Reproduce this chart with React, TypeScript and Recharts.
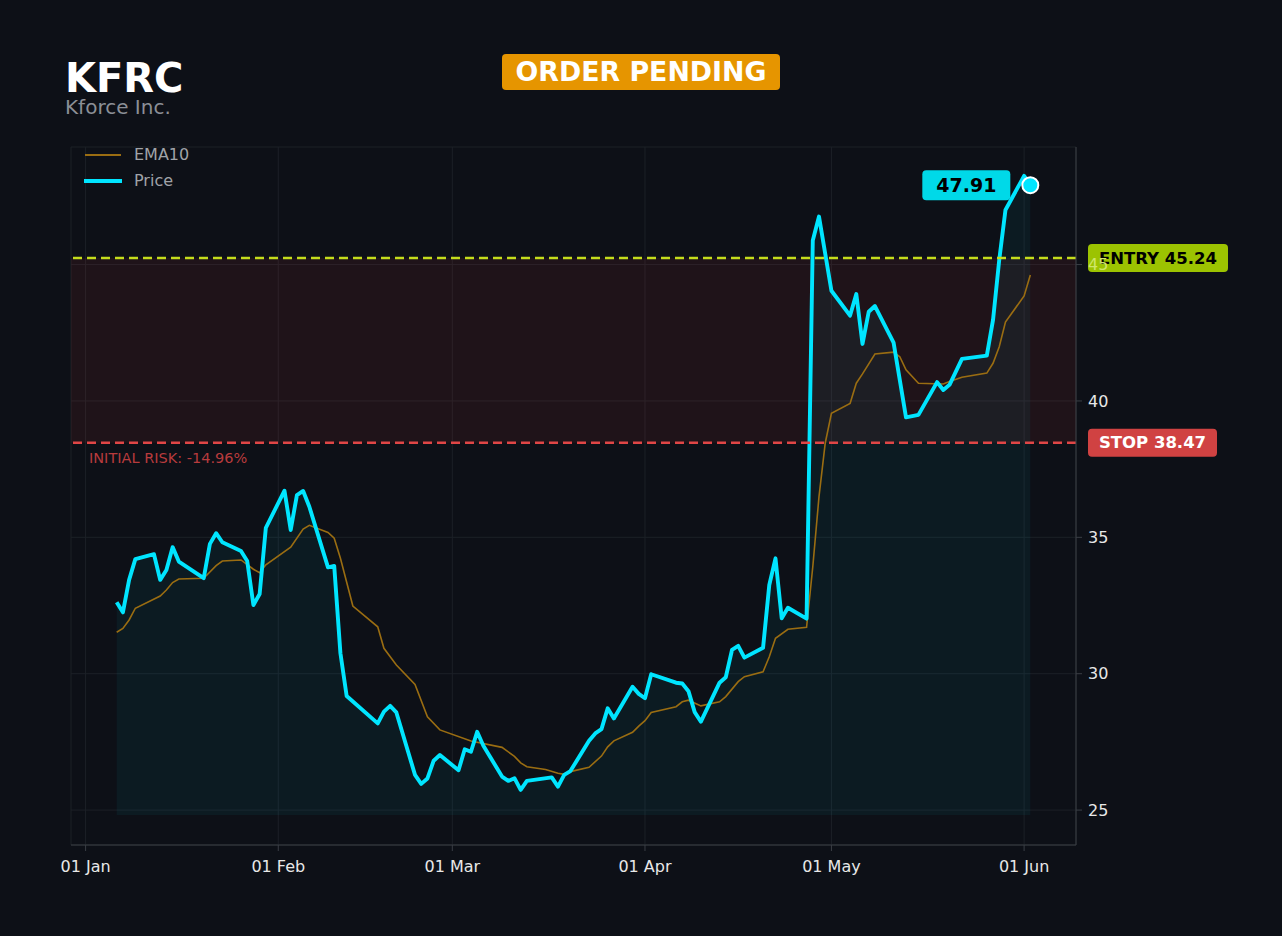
import {
  Area,
  CartesianGrid,
  ComposedChart,
  Line,
  ReferenceArea,
  ReferenceDot,
  ReferenceLine,
  XAxis,
  YAxis,
} from "recharts";

const YEAR = 2026;
const TICKER = "KFRC";
const COMPANY = "Kforce Inc.";
const ENTRY = 45.24;
const STOP = 38.47;
const INITIAL_RISK = "-14.96%";
const LAST_PRICE = 47.91;

const monthTicks = ["01-01", "02-01", "03-01", "04-01", "05-01", "06-01"];
const yTicks = [25, 30, 35, 40, 45];

const priceDates = [
  "01-06", "01-07", "01-08", "01-09", "01-12", "01-13", "01-14", "01-15", "01-16", "01-20",
  "01-21", "01-22", "01-23", "01-26", "01-27", "01-28", "01-29", "01-30", "02-02", "02-03",
  "02-04", "02-05", "02-06", "02-09", "02-10", "02-11", "02-12", "02-17", "02-18", "02-19",
  "02-20", "02-23", "02-24", "02-25", "02-26", "02-27", "03-02", "03-03", "03-04", "03-05",
  "03-06", "03-09", "03-10", "03-11", "03-12", "03-13", "03-17", "03-18", "03-19", "03-20",
  "03-23", "03-24", "03-25", "03-26", "03-27", "03-30", "03-31", "04-01", "04-02", "04-06",
  "04-07", "04-08", "04-09", "04-10", "04-13", "04-14", "04-15", "04-16", "04-17", "04-20",
  "04-21", "04-22", "04-23", "04-24", "04-27", "04-28", "04-29", "05-01", "05-04", "05-05",
  "05-06", "05-07", "05-08", "05-11", "05-13", "05-15", "05-18", "05-19", "05-20", "05-22",
  "05-26", "05-27", "05-28", "05-29", "06-01", "06-02",
];
const priceValues = [
  32.62, 32.25, 33.44, 34.2, 34.38, 33.44, 33.8, 34.64, 34.11, 33.5,
  34.76, 35.15, 34.82, 34.5, 34.13, 32.52, 32.92, 35.35, 36.71, 35.27,
  36.55, 36.7, 36.12, 33.9, 33.95, 30.75, 29.18, 28.18, 28.61, 28.82,
  28.58, 26.29, 25.96, 26.16, 26.81, 27.02, 26.46, 27.23, 27.14, 27.87,
  27.36, 26.23, 26.07, 26.17, 25.74, 26.07, 26.2, 25.86, 26.29, 26.43,
  27.54, 27.81, 27.97, 28.73, 28.36, 29.52, 29.26, 29.1, 29.98, 29.67,
  29.64, 29.36, 28.59, 28.24, 29.67, 29.87, 30.87, 31.02, 30.59, 30.95,
  33.25, 34.23, 32.03, 32.42, 32.02, 45.88, 46.76, 44.04, 43.13, 43.92,
  42.09, 43.27, 43.48, 42.14, 39.4, 39.49, 40.69, 40.4, 40.59, 41.54,
  41.66, 42.97, 45.17, 47.0, 48.25, 47.91,
];

const emaDates = [
  "01-06", "01-07", "01-08", "01-09", "01-13", "01-14", "01-15", "01-16", "01-20", "01-22",
  "01-23", "01-26", "01-28", "01-29", "01-30", "02-03", "02-05", "02-06", "02-09", "02-10",
  "02-11", "02-13", "02-17", "02-18", "02-20", "02-23", "02-25", "02-27", "03-04", "03-09",
  "03-11", "03-12", "03-13", "03-16", "03-18", "03-19", "03-20", "03-23", "03-25", "03-26",
  "03-27", "03-30", "03-31", "04-01", "04-02", "04-06", "04-07", "04-08", "04-10", "04-13",
  "04-14", "04-16", "04-17", "04-20", "04-21", "04-22", "04-24", "04-27", "04-28", "04-29",
  "04-30", "05-01", "05-04", "05-05", "05-06", "05-08", "05-11", "05-12", "05-13", "05-15",
  "05-19", "05-20", "05-22", "05-26", "05-27", "05-28", "05-29", "06-01", "06-02",
];
const emaValues = [
  31.52, 31.66, 31.97, 32.4, 32.85, 33.07, 33.34, 33.47, 33.5, 33.96,
  34.13, 34.17, 33.83, 33.7, 33.99, 34.64, 35.3, 35.44, 35.18, 34.97,
  34.23, 32.48, 31.72, 30.93, 30.32, 29.61, 28.42, 27.94, 27.53, 27.3,
  26.97, 26.73, 26.59, 26.49, 26.35, 26.31, 26.41, 26.57, 26.98, 27.32,
  27.54, 27.85, 28.08, 28.28, 28.58, 28.79, 28.97, 29.03, 28.82, 28.97,
  29.16, 29.71, 29.89, 30.07, 30.62, 31.3, 31.63, 31.7, 33.92, 36.49,
  38.45, 39.55, 39.91, 40.65, 40.99, 41.72, 41.79, 41.62, 41.14, 40.65,
  40.62, 40.71, 40.87, 41.02, 41.38, 41.99, 42.89, 43.85, 44.62,
];

const MONTHS = ["Jan", "Feb", "Mar", "Apr", "May", "Jun", "Jul", "Aug", "Sep", "Oct", "Nov", "Dec"];
const FONT = "'DejaVu Sans', sans-serif";
const BG = "#0d1017";
const CYAN = "#00e5ff";
const EMA_COLOR = "#9a6d12";
const ENTRY_COLOR = "#c4dc1c";
const STOP_COLOR = "#e04646";

function toTime(md: string): number {
  return Date.parse(`${YEAR}-${md}T00:00:00Z`);
}

const priceRows = priceDates.map((d, i) => ({ t: toTime(d), price: priceValues[i] }));
const emaRows = emaDates.map((d, i) => ({ t: toTime(d), ema: emaValues[i] }));
const xTicks = monthTicks.map(toTime);

const tFirst = priceRows[0].t;
const tLast = priceRows[priceRows.length - 1].t;
const xPad = (tLast - tFirst) * 0.05;

function formatTick(value: number): string {
  const date = new Date(value);
  return `${String(date.getUTCDate()).padStart(2, "0")} ${MONTHS[date.getUTCMonth()]}`;
}

// the 45 tick sits under the entry tag and only shows through it faintly
function YTick(props: any) {
  const { x, y, payload } = props;
  const underTag = Math.abs(payload.value - ENTRY) < 0.6;
  return (
    <text
      x={x}
      y={y}
      dy="0.355em"
      textAnchor="start"
      fill={underTag ? "#cfe66a" : "#e8e8e8"}
      fontSize={16}
      fontFamily={FONT}
    >
      {payload.value}
    </text>
  );
}

function EntryTag(props: any) {
  const { viewBox } = props;
  const x = viewBox.x + viewBox.width + 12;
  const y = viewBox.y;
  return (
    <g>
      <rect x={x} y={y - 14} width={140} height={28} rx={4} fill="#a8d300" fillOpacity={0.92} />
      <text
        x={x + 70}
        y={y + 1}
        textAnchor="middle"
        dominantBaseline="middle"
        fill="#000"
        fontFamily={FONT}
        fontWeight="bold"
        fontSize={16.5}
      >
        ENTRY {ENTRY.toFixed(2)}
      </text>
    </g>
  );
}

function StopTag(props: any) {
  const { viewBox } = props;
  const x = viewBox.x + viewBox.width + 12;
  const y = viewBox.y;
  return (
    <g>
      <rect x={x} y={y - 14} width={129} height={28} rx={4} fill="#d04242" />
      <text
        x={x + 64.5}
        y={y + 1}
        textAnchor="middle"
        dominantBaseline="middle"
        fill="#fff"
        fontFamily={FONT}
        fontWeight="bold"
        fontSize={16.5}
      >
        STOP {STOP.toFixed(2)}
      </text>
      <text
        x={viewBox.x + 18}
        y={y + 16}
        dominantBaseline="middle"
        fill="#b83b3d"
        fontFamily={FONT}
        fontSize={14.5}
      >
        INITIAL RISK: {INITIAL_RISK}
      </text>
    </g>
  );
}

function LastDot(props: any) {
  const { cx, cy } = props;
  return (
    <g>
      <rect x={cx - 108} y={cy - 15} width={88} height={30} rx={4} fill="#00d9e8" />
      <text
        x={cx - 64}
        y={cy + 1}
        textAnchor="middle"
        dominantBaseline="middle"
        fill="#000"
        fontFamily={FONT}
        fontWeight="bold"
        fontSize={19}
      >
        {LAST_PRICE.toFixed(2)}
      </text>
      <circle cx={cx} cy={cy} r={8} fill={CYAN} stroke="#fff" strokeWidth={2} />
    </g>
  );
}

export default function App() {
  return (
    <div
      style={{
        position: "absolute",
        left: 0,
        top: 0,
        width: 1282,
        height: 936,
        background: BG,
        fontFamily: FONT,
        overflow: "hidden",
      }}
    >
      <div style={{ position: "absolute", left: 65, top: 58, fontSize: 40, lineHeight: 1, fontWeight: "bold", color: "#fff" }}>
        {TICKER}
      </div>
      <div style={{ position: "absolute", left: 65, top: 97, fontSize: 20, lineHeight: 1, color: "#8b8f96" }}>
        {COMPANY}
      </div>
      <div
        style={{
          position: "absolute",
          left: 502,
          top: 54,
          width: 278,
          height: 36,
          borderRadius: 4,
          background: "#e69500",
          color: "#fff",
          fontWeight: "bold",
          fontSize: 26.8,
          lineHeight: "36px",
          textAlign: "center",
        }}
      >
        ORDER PENDING
      </div>

      <ComposedChart
        width={1282}
        height={936}
        data={priceRows}
        margin={{ top: 147, right: 0, bottom: 0, left: 71 }}
        style={{ position: "absolute", left: 0, top: 0 }}
      >
        <CartesianGrid stroke="#1c2027" strokeWidth={1} />
        <XAxis
          dataKey="t"
          type="number"
          scale="time"
          domain={[tFirst - xPad, tLast + xPad]}
          ticks={xTicks}
          tickFormatter={formatTick}
          height={91}
          stroke="#3a3e45"
          tickSize={6}
          tickMargin={10}
          tick={{ fill: "#e8e8e8", fontSize: 16, fontFamily: FONT }}
          allowDataOverflow
        />
        <YAxis
          orientation="right"
          type="number"
          domain={[23.72, 49.31]}
          ticks={yTicks}
          width={206}
          stroke="#3a3e45"
          tickSize={6}
          tickMargin={6}
          tick={YTick}
          allowDataOverflow
        />
        <ReferenceArea y1={STOP} y2={ENTRY} fill="#dc323c" fillOpacity={0.09} stroke="none" />
        <Area
          dataKey="price"
          type="linear"
          baseValue={24.82}
          fill={CYAN}
          fillOpacity={0.05}
          stroke="none"
          isAnimationActive={false}
        />
        <Line
          data={emaRows}
          dataKey="ema"
          type="linear"
          stroke={EMA_COLOR}
          strokeWidth={1.6}
          dot={false}
          activeDot={false}
          isAnimationActive={false}
        />
        <Line
          dataKey="price"
          type="linear"
          stroke={CYAN}
          strokeWidth={3.9}
          strokeLinejoin="round"
          dot={false}
          activeDot={false}
          isAnimationActive={false}
        />
        <ReferenceLine y={ENTRY} stroke={ENTRY_COLOR} strokeWidth={2.5} strokeDasharray="9 5" label={EntryTag} />
        <ReferenceLine y={STOP} stroke={STOP_COLOR} strokeWidth={2.5} strokeDasharray="9 5" label={StopTag} />
        <ReferenceDot x={tLast} y={LAST_PRICE} r={8} shape={LastDot} />
      </ComposedChart>

      <svg width={140} height={60} style={{ position: "absolute", left: 70, top: 140 }}>
        <line x1={15} x2={51} y1={15} y2={15} stroke={EMA_COLOR} strokeWidth={1.8} />
        <line x1={14} x2={52} y1={41} y2={41} stroke={CYAN} strokeWidth={4} />
        <text x={64} y={15} dominantBaseline="middle" fill="#a0a3a8" fontSize={16} fontFamily={FONT}>
          EMA10
        </text>
        <text x={64} y={41} dominantBaseline="middle" fill="#a0a3a8" fontSize={16} fontFamily={FONT}>
          Price
        </text>
      </svg>
    </div>
  );
}
